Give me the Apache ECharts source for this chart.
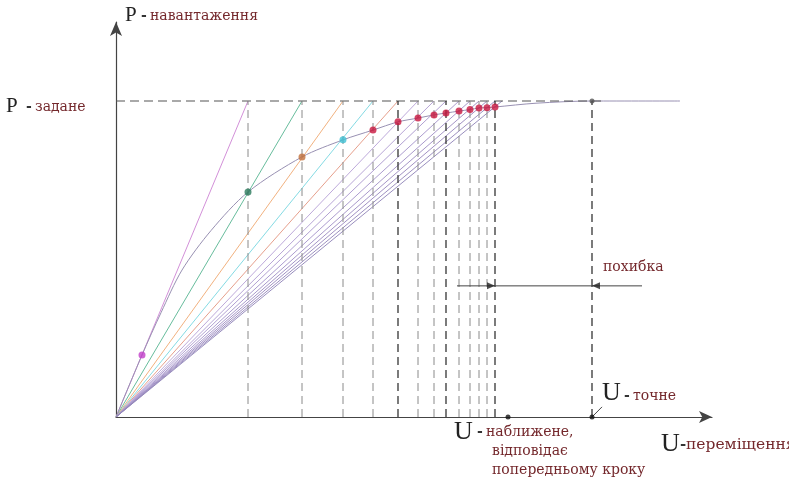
<!DOCTYPE html>
<html>
<head>
<meta charset="utf-8">
<script src="https://cdn.jsdelivr.net/npm/echarts@6/dist/echarts.min.js"></script>
<style>
html,body{margin:0;padding:0;background:#fff;}
#chart{width:789px;height:485px;}
</style>
</head>
<body>
<div id="chart"></div>
<script>
// ---- data ----
const P_TARGET = 100;
const U_EXACT = 4.76;
const U_APPROX = 3.92;
// load-displacement curve
const curveU = [0, 0.26, 0.45, 0.66, 0.95, 1.32, 1.86, 2.27, 2.57, 2.82, 3.02, 3.18, 3.30, 3.43, 3.54, 3.63, 3.71, 3.79, 4.2, 4.76, 5.64];
const curveP = [0, 19.6, 33, 46.5, 59, 71.2, 82.3, 87.7, 90.8, 93.4, 94.6, 95.6, 96.2, 96.8, 97.3, 97.8, 97.9, 98.1, 99.3, 100, 100];
// iteration points on the curve
const iterU = [0.26, 1.32, 1.86, 2.27, 2.57, 2.82, 3.02, 3.18, 3.30, 3.43, 3.54, 3.63, 3.71, 3.79];
const iterP = [19.6, 71.2, 82.3, 87.7, 90.8, 93.4, 94.6, 95.6, 96.2, 96.8, 97.3, 97.8, 97.9, 98.1];
// secant lines reach P_TARGET at these U
const secantEndU = [1.32, 1.86, 2.27, 2.57, 2.82, 3.02, 3.18, 3.30, 3.43, 3.54, 3.63, 3.71, 3.79, 3.86];
// vertical guide lines
const guideU = [1.32, 1.86, 2.27, 2.57, 2.82, 3.02, 3.18, 3.30, 3.43, 3.54, 3.63, 3.71, 3.79, 4.76];
// error arrow
const errorP = 41.5;
const errorLineU = [3.41, 5.26];
const errorArrowU = [3.79, 4.76];
const X_MAX = 5.96, Y_MAX = 125;

// ---- styles ----
const secantColors = ['#d08ad6','#5fb897','#f0ad78','#7dd8e2','#e59a86','#b9a4d8','#b3a0d4','#ad9bd0','#a897cc','#a493c8','#a08fc4','#9c8bc0','#988abd','#9488ba'];
const dotColors = ['#c23fc9','#2b7a5c','#c2703c','#3fc0d3','#c8173f','#c8173f','#c8173f','#c8173f','#c8173f','#c8173f','#c8173f','#c8173f','#c8173f','#c8173f'];
const guideDark = [false,false,false,false,true,false,false,true,false,false,false,false,true,true];
const LABEL = '#74282c';
const SERIF = '"Liberation Serif","Times New Roman",serif';
const LSERIF = '"DejaVu Serif",serif';

const series = [];
secantEndU.forEach((u, i) => {
  series.push({type:'line', data:[[0,0],[u,P_TARGET]], showSymbol:false, silent:true, z:1,
    lineStyle:{color:secantColors[i], width:1, opacity:0.95}});
});
series.push({type:'line', data:curveU.map((u,i)=>[u,curveP[i]]), smooth:0.3,
  showSymbol:false, silent:true, z:2, lineStyle:{color:'#9890b2', width:1}});
series.push({type:'line', data:[[0,P_TARGET],[4.86,P_TARGET]], showSymbol:false, silent:true, z:3,
  lineStyle:{color:'#555', width:1.2, type:[9,5]}});
guideU.forEach((u,i) => {
  series.push({type:'line', data:[[u,0],[u,P_TARGET]], showSymbol:false, silent:true, z:3,
    lineStyle:{color: guideDark[i] ? '#333' : '#8a8a8a', width: guideDark[i] ? 1.3 : 1, type:[8,5]}});
});
series.push({type:'scatter', data:iterU.map((u,i)=>({value:[u,iterP[i]], itemStyle:{color:dotColors[i]}})),
  symbolSize:7, z:5, silent:true});
series.push({type:'scatter', data:[[U_EXACT,P_TARGET]], symbolSize:5, itemStyle:{color:'#555'}, z:5, silent:true});
series.push({type:'scatter', data:[[U_APPROX,0],[U_EXACT,0]], symbolSize:5, itemStyle:{color:'#111'}, z:6, silent:true});
series.push({type:'line', data:[[U_EXACT,0],[U_EXACT+0.1,3.2]], showSymbol:false, silent:true, z:5,
  lineStyle:{color:'#444', width:1}});
series.push({type:'line', data:[[errorLineU[0],errorP],[errorLineU[1],errorP]], showSymbol:false, silent:true, z:5,
  lineStyle:{color:'#444', width:1}});
series.push({type:'scatter', data:[[errorArrowU[0],errorP]], symbol:'path://M0,0L10,5L0,10Z', symbolSize:[8,7],
  symbolOffset:[-4,0], itemStyle:{color:'#222'}, z:6, silent:true});
series.push({type:'scatter', data:[[errorArrowU[1],errorP]], symbol:'path://M10,0L0,5L10,10Z', symbolSize:[8,7],
  symbolOffset:[4,0], itemStyle:{color:'#222'}, z:6, silent:true});

function txt(x, y, text, font, size, color, weight) {
  return {type:'text', x:x, y:y, z:10, style:{text:text, font:(weight||'normal')+' '+size+'px '+font, fill:color, align:'left', verticalAlign:'middle'}};
}

const option = {
  animation:false,
  backgroundColor:'#fff',
  grid:{left:116, top:22, width:596, height:395},
  xAxis:{type:'value', min:0, max:X_MAX, axisLine:{show:true, symbol:['none','arrow'], symbolSize:[9,13], lineStyle:{color:'#444', width:1.2}},
    axisTick:{show:false}, axisLabel:{show:false}, splitLine:{show:false}},
  yAxis:{type:'value', min:0, max:Y_MAX, axisLine:{show:true, symbol:['none','arrow'], symbolSize:[9,14], lineStyle:{color:'#444', width:1.2}},
    axisTick:{show:false}, axisLabel:{show:false}, splitLine:{show:false}},
  series:series,
  graphic:[
    txt(125, 15, 'P', SERIF, 21, '#222'),
    txt(141, 16, '-', LSERIF, 14, '#333', 'bold'),
    txt(150, 16, 'навантаження', LSERIF, 14, LABEL),
    txt(6, 106, 'P', SERIF, 21, '#222'),
    txt(26, 107, '-', LSERIF, 14, '#333', 'bold'),
    txt(35, 107, 'задане', LSERIF, 14, LABEL),
    txt(603, 267, 'похибка', LSERIF, 14, LABEL),
    txt(602, 393, 'U', SERIF, 26, '#222'),
    txt(624, 396, '-', LSERIF, 14, '#333', 'bold'),
    txt(633, 396, 'точне', LSERIF, 14, LABEL),
    txt(454, 432, 'U', SERIF, 26, '#222'),
    txt(477, 432, '-', LSERIF, 14, '#333', 'bold'),
    txt(486, 432, 'наближене,', LSERIF, 14, LABEL),
    txt(492, 451, 'відповідає', LSERIF, 14, LABEL),
    txt(492, 470, 'попередньому кроку', LSERIF, 14, LABEL),
    txt(661, 444, 'U', SERIF, 26, '#222'),
    txt(680, 445, '-', LSERIF, 15, '#333', 'bold'),
    txt(686, 445, 'переміщення', LSERIF, 15.5, LABEL)
  ]
};
const chart = echarts.init(document.getElementById('chart'), null, {renderer:'canvas'});
chart.setOption(option);
</script>
</body>
</html>
